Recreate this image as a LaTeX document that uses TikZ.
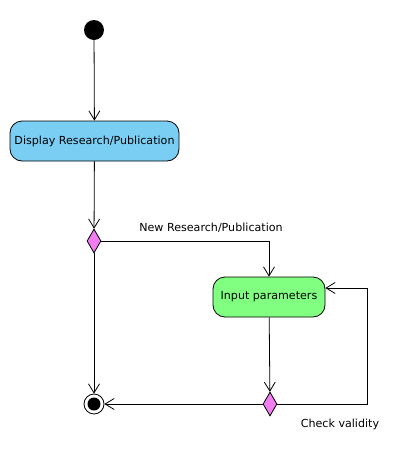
\documentclass[tikz,border=0pt]{standalone}
\usepackage{fontspec}
\setmainfont{DejaVu Sans}
\usetikzlibrary{arrows.meta,positioning,shapes.geometric}
\definecolor{actblue}{RGB}{122,206,244}
\definecolor{actgreen}{RGB}{128,255,128}
\definecolor{decpink}{RGB}{241,125,241}

\begin{document}
\begin{tikzpicture}[x=1pt,y=-1pt,every node/.style={font=\fontsize{11.1}{13}\selectfont},
    act/.style={draw,rounded corners=12pt,minimum height=40pt,line width=0.8pt},
    dec/.style={draw,diamond,fill=decpink,minimum width=14pt,minimum height=24pt,inner sep=0pt,line width=0.8pt},
    flow/.style={-{Straight Barb[length=9pt,width=11pt]},line width=0.8pt}]
        \useasboundingbox (0,0) rectangle (401,464);
        \node[circle,fill=black,minimum size=20pt,inner sep=0pt] (start) at (94,30) {};
        \node[act,fill=actblue,minimum width=169pt] (disp) at (94.5,141) {Display Research/Publication};
        \node[dec] (dec1) at (94,241) {};
        \node[act,fill=actgreen,minimum width=112pt] (input) at (269,297) {Input parameters};
        \node[dec] (dec2) at (270,404) {};
        \node[circle,draw,minimum size=20pt,inner sep=0pt,line width=0.8pt] (stop) at (94,404) {};
        \fill (stop.center) circle (6.5pt);
        \coordinate (back) at (367,288);
        \draw[flow] (start) -- (disp);
        \draw[flow] (disp) -- (dec1);
        \draw[flow] (dec1.east) -| (input.north);
        \node at (211,228) {New Research/Publication};
        \draw[flow] (input) -- (dec2);
        \draw[flow] (dec2.east) -| (back) -- (back -| input.east);
        \draw[flow] (dec2.west) -- (stop);
        \draw[flow] (dec1.south) -- (stop);
        \node at (340,424) {Check validity};
      \end{tikzpicture}
\end{document}
